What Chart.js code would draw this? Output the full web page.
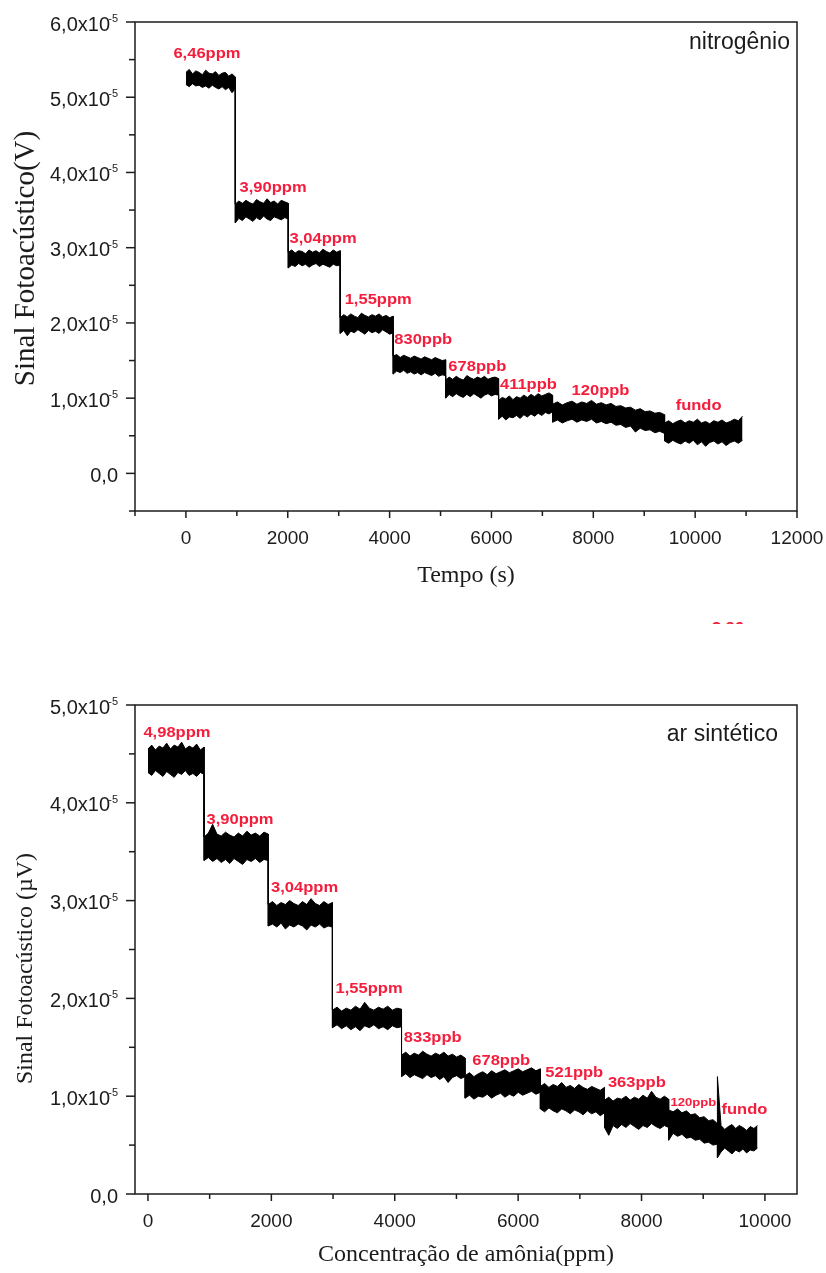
<!DOCTYPE html>
<html>
<head>
<meta charset="utf-8">
<script src="https://cdn.jsdelivr.net/npm/chart.js@4.4.1/dist/chart.umd.min.js"></script>
<style>
  html, body { margin: 0; padding: 0; background: #fff; }
  body { width: 826px; height: 1273px; position: relative; overflow: hidden; }
  canvas { position: absolute; left: 0; }
  #topChart { top: 0; }
  #bottomChart { top: 640px; }
  #strayLabel { position: absolute; left: 712px; top: 618px; height: 6px; width: 80px; overflow: hidden; }
  #strayLabel span { display: inline-block; font: bold 14.5px/14.5px "Liberation Sans", Arial, sans-serif; color: #f51d3c; transform: scaleX(1.14); transform-origin: left top; }
</style>
</head>
<body>
<canvas id="topChart" width="826" height="600"></canvas>
<canvas id="bottomChart" width="826" height="633"></canvas>
<div id="strayLabel"><span>3,90ppm</span></div>
<script>
// signal in units of 1e-5 V, time in s
// each step of the noisy trace is kept as its upper and lower edge

// --- nitrogen run (top) ---
const n2StepStart = [0, 970, 2010, 3030, 4070, 5100, 6140, 7200, 9400];
const n2StepEnd   = [970, 2010, 3030, 4070, 5100, 6140, 7200, 9400, 10930];
const n2Upper = [
  [5.33,5.37,5.31,5.35,5.33,5.30,5.36,5.32,5.31,5.34,5.29,5.32,5.33,5.28,5.31,5.27],
  [3.58,3.62,3.59,3.63,3.60,3.58,3.64,3.61,3.59,3.65,3.60,3.62,3.58,3.63,3.61,3.59],
  [2.94,2.97,2.93,2.96,2.95,2.92,2.97,2.94,2.96,2.93,2.98,2.95,2.93,2.97,2.94,2.96],
  [2.07,2.11,2.08,2.12,2.09,2.07,2.13,2.10,2.08,2.11,2.09,2.12,2.08,2.10,2.07,2.09],
  [1.56,1.58,1.54,1.57,1.55,1.53,1.56,1.54,1.52,1.55,1.53,1.51,1.54,1.52,1.50,1.51],
  [1.24,1.28,1.25,1.29,1.26,1.24,1.30,1.27,1.25,1.28,1.26,1.29,1.25,1.27,1.28,1.26],
  [0.97,1.01,0.99,1.03,0.98,1.02,1.00,1.04,1.01,1.05,1.02,1.06,1.03,1.05,1.07,1.04],
  [0.92,0.95,0.91,0.94,0.96,0.92,0.95,0.93,0.97,0.92,0.94,0.91,0.93,0.89,0.90,0.87,0.88,0.84,0.86,0.82,0.83,0.80,0.81,0.78],
  [0.67,0.70,0.66,0.69,0.71,0.67,0.70,0.68,0.72,0.67,0.69,0.66,0.70,0.68,0.71,0.67,0.69,0.72,0.70,0.76]
];
const n2Lower = [
  [5.17,5.14,5.18,5.15,5.16,5.13,5.15,5.12,5.16,5.13,5.11,5.14,5.10,5.13,5.06,5.11],
  [3.33,3.39,3.36,3.41,3.38,3.35,3.40,3.37,3.42,3.38,3.36,3.41,3.39,3.37,3.40,3.38],
  [2.73,2.77,2.75,2.79,2.76,2.78,2.74,2.77,2.79,2.75,2.78,2.76,2.74,2.78,2.76,2.77],
  [1.86,1.90,1.83,1.89,1.87,1.91,1.88,1.85,1.90,1.87,1.89,1.86,1.91,1.88,1.85,1.87],
  [1.32,1.36,1.34,1.37,1.33,1.35,1.32,1.34,1.31,1.34,1.32,1.30,1.33,1.29,1.31,1.30],
  [1.00,1.05,1.02,1.06,1.03,1.01,1.05,1.02,1.06,1.03,1.00,1.04,1.06,1.03,1.05,1.04],
  [0.72,0.76,0.71,0.75,0.74,0.77,0.73,0.78,0.75,0.79,0.76,0.80,0.77,0.81,0.79,0.82],
  [0.68,0.71,0.67,0.70,0.72,0.68,0.71,0.69,0.72,0.67,0.69,0.66,0.68,0.64,0.65,0.61,0.63,0.55,0.60,0.57,0.58,0.54,0.56,0.53],
  [0.43,0.40,0.44,0.41,0.39,0.43,0.40,0.44,0.38,0.42,0.36,0.41,0.43,0.39,0.42,0.37,0.41,0.43,0.40,0.44]
];
const n2LabelText = ['6,46ppm', '3,90ppm', '3,04ppm', '1,55ppm', '830ppb', '678ppb', '411ppb', '120ppb', 'fundo'];
const n2LabelT    = [413, 1711, 2694, 3776, 4660, 5722, 6726, 8141, 10068];
const n2LabelV    = [5.57, 3.79, 3.12, 2.30, 1.77, 1.42, 1.18, 1.10, 0.89];

// --- synthetic air run (bottom) ---
const airStepStart = [0, 910, 1950, 2990, 4110, 5140, 6360, 7400, 8440, 9230];
const airStepEnd   = [910, 1950, 2990, 4110, 5140, 6360, 7400, 8440, 9230, 9880];
const airUpper = [
  [4.55,4.59,4.54,4.58,4.56,4.61,4.55,4.59,4.57,4.62,4.55,4.58,4.56,4.60,4.54,4.57],
  [3.65,3.69,3.78,3.68,3.66,3.70,3.67,3.65,3.69,3.66,3.71,3.67,3.69,3.66,3.70,3.68],
  [2.96,2.99,2.95,2.98,2.96,3.00,2.97,2.95,2.99,2.96,3.02,2.97,2.95,2.99,2.96,2.98],
  [1.88,1.91,1.87,1.90,1.88,1.92,1.89,1.96,1.90,1.88,1.91,1.89,1.92,1.88,1.90,1.89],
  [1.42,1.45,1.41,1.44,1.42,1.46,1.43,1.41,1.44,1.42,1.45,1.41,1.43,1.40,1.42,1.39],
  [1.21,1.24,1.20,1.23,1.25,1.22,1.26,1.23,1.25,1.27,1.24,1.26,1.28,1.25,1.27,1.29,1.26,1.28],
  [1.10,1.13,1.09,1.12,1.10,1.14,1.09,1.11,1.08,1.12,1.09,1.07,1.10,1.08,1.06,1.09],
  [0.96,0.99,0.95,0.98,0.97,1.00,0.96,0.99,0.97,1.01,0.98,1.05,0.99,0.97,1.00,0.97],
  [0.86,0.84,0.87,0.83,0.85,0.81,0.82,0.78,0.79,0.75,0.76,0.72],
  [0.67,0.70,0.66,0.69,0.71,0.67,0.70,0.68,0.65,0.69,0.67,0.70]
];
const airLower = [
  [4.31,4.28,4.33,4.30,4.27,4.32,4.29,4.26,4.31,4.29,4.33,4.28,4.30,4.27,4.31,4.29],
  [3.41,3.44,3.40,3.43,3.39,3.42,3.38,3.43,3.40,3.37,3.42,3.40,3.43,3.39,3.42,3.41],
  [2.74,2.76,2.73,2.77,2.71,2.75,2.73,2.76,2.74,2.70,2.75,2.73,2.76,2.72,2.74,2.73],
  [1.70,1.73,1.69,1.72,1.68,1.71,1.67,1.72,1.70,1.73,1.69,1.71,1.68,1.72,1.70,1.71],
  [1.20,1.23,1.19,1.22,1.20,1.18,1.22,1.19,1.21,1.17,1.20,1.14,1.19,1.21,1.18,1.20],
  [0.98,1.01,0.97,1.00,0.99,1.02,0.98,1.01,1.03,0.99,1.02,1.00,1.04,1.01,1.03,1.05,1.02,1.04],
  [0.87,0.84,0.88,0.85,0.83,0.87,0.85,0.82,0.86,0.84,0.81,0.85,0.82,0.84,0.80,0.83],
  [0.68,0.60,0.70,0.67,0.71,0.68,0.72,0.69,0.66,0.70,0.68,0.72,0.69,0.67,0.70,0.68],
  [0.55,0.62,0.59,0.61,0.57,0.58,0.55,0.56,0.52,0.53,0.50,0.51],
  [0.46,0.43,0.47,0.44,0.41,0.45,0.43,0.46,0.42,0.45,0.44,0.47]
];
// single glitch where the fundo step starts
const airSpikeT    = [9230];
const airSpikeHigh = [1.20];
const airSpikeLow  = [0.37];
const airLabelText = ['4,98ppm', '3,90ppm', '3,04ppm', '1,55ppm', '833ppb', '678ppb', '521ppb', '363ppb', '120ppb', 'fundo'];
const airLabelT    = [470, 1492, 2538, 3584, 4615, 5726, 6910, 7924, 8840, 9667];
const airLabelV    = [4.71, 3.82, 3.13, 2.10, 1.60, 1.36, 1.24, 1.14, 0.93, 0.86];

const RED = '#f51d3c';
const INK = '#1c1c1c';
const SANS = '"Liberation Sans", Arial, sans-serif';
const SERIF = '"Liberation Serif", "Times New Roman", serif';

function buildEdge(starts, ends, samples, extraT, extraV) {
  const pts = [];
  samples.forEach((vals, i) => {
    const n = vals.length - 1;
    vals.forEach((v, j) => pts.push({ x: starts[i] + (ends[i] - starts[i]) * j / n, y: v }));
  });
  (extraT || []).forEach((t, k) => pts.push({ x: t, y: extraV[k] }));
  return pts.sort((a, b) => a.x - b.x);
}

const isWhole = v => Math.abs(v - Math.round(v)) < 1e-6;

// frame, outward ticks, y labels with exponent, titles, red annotations
const framePlugin = {
  id: 'frame',
  afterDraw(chart, args, opts) {
    const { ctx, chartArea: a, scales: { x, y } } = chart;
    ctx.save();
    ctx.strokeStyle = INK;
    ctx.lineWidth = 1.5;
    ctx.strokeRect(a.left, a.top, a.right - a.left, a.bottom - a.top);

    x.ticks.forEach(t => {
      const px = x.getPixelForValue(t.value);
      const major = isWhole(t.value / 2000);
      ctx.beginPath();
      ctx.moveTo(px, a.bottom);
      ctx.lineTo(px, a.bottom + (major ? 7 : 5));
      ctx.stroke();
    });

    ctx.fillStyle = INK;
    y.ticks.forEach(t => {
      const py = y.getPixelForValue(t.value);
      const major = isWhole(t.value);
      ctx.beginPath();
      ctx.moveTo(a.left - (major ? 9 : 6), py);
      ctx.lineTo(a.left, py);
      ctx.stroke();
      if (!major) return;
      ctx.textAlign = 'right';
      ctx.textBaseline = 'middle';
      const txt = t.value.toFixed(1).replace('.', ',');
      ctx.font = '20px ' + SANS;
      if (Math.abs(t.value) < 1e-9) {
        ctx.fillText(txt, a.left - 17, py + 3);
      } else {
        ctx.fillText(txt + 'x10', a.left - 25, py + 3);
        ctx.font = '11px ' + SANS;
        ctx.fillText('-5', a.left - 17, py - 3);
      }
    });

    // vertical axis title
    ctx.save();
    ctx.translate(26, (a.top + a.bottom) / 2 + opts.yTitleDy);
    ctx.rotate(-Math.PI / 2);
    ctx.textAlign = 'center';
    ctx.textBaseline = 'middle';
    ctx.font = opts.yTitleSize + 'px ' + SERIF;
    ctx.fillText(opts.yTitle, 0, 0);
    ctx.restore();

    ctx.fillStyle = RED;
    ctx.textAlign = 'center';
    ctx.textBaseline = 'middle';
    opts.text.forEach((txt, i) => {
      const px = x.getPixelForValue(opts.t[i]);
      const py = y.getPixelForValue(opts.v[i]);
      ctx.save();
      ctx.translate(px, py);
      ctx.scale(1.14, 1);
      ctx.font = 'bold ' + (i === opts.smallIndex ? 11.5 : 14.5) + 'px ' + SANS;
      ctx.fillText(txt, 0, 0);
      ctx.restore();
    });

    ctx.fillStyle = INK;
    ctx.textAlign = 'right';
    ctx.font = '23px ' + SANS;
    ctx.fillText(opts.gas, a.right - opts.gasDx, a.top + opts.gasDy);
    ctx.restore();
  }
};

function makeChart(id, cfg) {
  return new Chart(document.getElementById(id), {
    type: 'line',
    data: {
      datasets: [{
        data: cfg.upper,
        borderColor: '#000',
        backgroundColor: '#000',
        borderWidth: 1,
        pointRadius: 0,
        tension: 0,
        fill: '+1'
      }, {
        data: cfg.lower,
        borderColor: '#000',
        borderWidth: 1,
        pointRadius: 0,
        tension: 0,
        fill: false
      }]
    },
    options: {
      responsive: false,
      animation: false,
      events: [],
      layout: { padding: { left: 0, top: cfg.top, right: 29, bottom: 0 } },
      plugins: {
        legend: { display: false },
        tooltip: { enabled: false },
        frame: cfg.frame
      },
      scales: {
        x: {
          type: 'linear',
          min: cfg.xMin,
          max: cfg.xMax,
          grid: { display: false },
          border: { display: false },
          afterBuildTicks: s => {
            const ticks = [];
            for (let v = Math.ceil(s.min / 1000) * 1000; v <= s.max; v += 1000) ticks.push({ value: v });
            s.ticks = ticks;
          },
          ticks: {
            autoSkip: false,
            maxRotation: 0,
            padding: 8.5,
            color: INK,
            font: { family: SANS, size: 19 },
            callback: v => isWhole(v / 2000) ? String(v) : ''
          },
          title: {
            display: true,
            text: cfg.xTitle,
            color: INK,
            font: { family: SERIF, size: 24, lineHeight: 1.2 },
            padding: { top: 0, bottom: cfg.xTitlePad }
          },
          afterFit: s => { s.height = cfg.xHeight; s.paddingLeft = 0; s.paddingRight = 0; }
        },
        y: {
          min: cfg.yMin,
          max: cfg.yMax,
          grid: { display: false },
          border: { display: false },
          ticks: { stepSize: 0.5, display: false },
          afterFit: s => { s.width = 135; s.paddingTop = 0; s.paddingBottom = 0; }
        }
      }
    },
    plugins: [framePlugin]
  });
}

makeChart('topChart', {
  upper: buildEdge(n2StepStart, n2StepEnd, n2Upper),
  lower: buildEdge(n2StepStart, n2StepEnd, n2Lower),
  top: 22, xHeight: 89, xTitlePad: 9.6,
  xMin: -1000, xMax: 12000, yMin: -0.5, yMax: 6,
  xTitle: 'Tempo (s)',
  frame: {
    text: n2LabelText, t: n2LabelT, v: n2LabelV, smallIndex: -1,
    gas: 'nitrogênio', gasDx: 7, gasDy: 21,
    yTitle: 'Sinal Fotoacústico(V)', yTitleSize: 29, yTitleDy: -8
  }
});

makeChart('bottomChart', {
  upper: buildEdge(airStepStart, airStepEnd, airUpper, airSpikeT, airSpikeHigh),
  lower: buildEdge(airStepStart, airStepEnd, airLower, airSpikeT, airSpikeLow),
  top: 65, xHeight: 79, xTitlePad: 3.6,
  xMin: -210, xMax: 10520, yMin: 0, yMax: 5,
  xTitle: 'Concentração de amônia(ppm)',
  frame: {
    text: airLabelText, t: airLabelT, v: airLabelV, smallIndex: 8,
    gas: 'ar sintético', gasDx: 19, gasDy: 30,
    yTitle: 'Sinal Fotoacústico (µV)', yTitleSize: 24, yTitleDy: 19
  }
});
</script>
</body>
</html>
